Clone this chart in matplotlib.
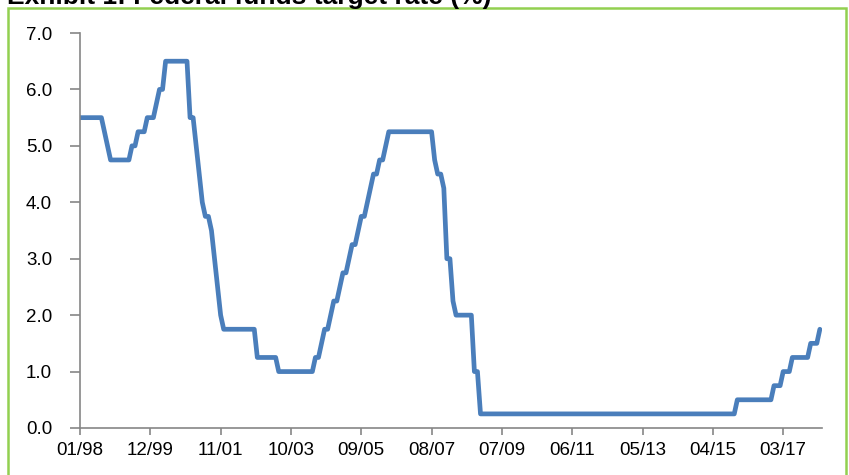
import matplotlib.pyplot as plt
from matplotlib.patches import Rectangle

plt.rcParams['font.family'] = ['Liberation Sans', 'DejaVu Sans']

# month-end fed funds target rate (%), Jan 1998 .. Mar 2018
rate_1998 = [5.5] * 8 + [5.25, 5.0, 4.75, 4.75]
rate_1999 = [4.75] * 5 + [5.0, 5.0, 5.25, 5.25, 5.25, 5.5, 5.5]
rate_2000 = [5.5, 5.75, 6.0, 6.0] + [6.5] * 8
rate_2001 = [5.5, 5.5, 5.0, 4.5, 4.0, 3.75, 3.75, 3.5, 3.0, 2.5, 2.0, 1.75]
rate_2002 = [1.75] * 10 + [1.25, 1.25]
rate_2003 = [1.25] * 5 + [1.0] * 7
rate_2004 = [1.0] * 5 + [1.25, 1.25, 1.5, 1.75, 1.75, 2.0, 2.25]
rate_2005 = [2.25, 2.5, 2.75, 2.75, 3.0, 3.25, 3.25, 3.5, 3.75, 3.75, 4.0, 4.25]
rate_2006 = [4.5, 4.5, 4.75, 4.75, 5.0] + [5.25] * 7
rate_2007 = [5.25] * 8 + [4.75, 4.5, 4.5, 4.25]
rate_2008 = [3.0, 3.0, 2.25, 2.0, 2.0, 2.0, 2.0, 2.0, 2.0, 1.0, 1.0, 0.25]
rate_2009_2015 = [0.25] * (6 * 12 + 11) + [0.5]
rate_2016 = [0.5] * 11 + [0.75]
rate_2017 = [0.75, 0.75, 1.0, 1.0, 1.0, 1.25, 1.25, 1.25, 1.25, 1.25, 1.25, 1.5]
rate_2018 = [1.5, 1.5, 1.75]

rate = (rate_1998 + rate_1999 + rate_2000 + rate_2001 + rate_2002 + rate_2003
        + rate_2004 + rate_2005 + rate_2006 + rate_2007 + rate_2008
        + rate_2009_2015 + rate_2016 + rate_2017 + rate_2018)

tick_labels = ['01/98', '12/99', '11/01', '10/03', '09/05', '08/07',
               '07/09', '06/11', '05/13', '04/15', '03/17']
tick_step = 23

fig = plt.figure(figsize=(8.49, 4.75), dpi=100)
ax = fig.add_axes([80 / 849, 47 / 475, 742 / 849, 395 / 475])

ax.plot(range(len(rate)), rate, color='#4a7ebb', linewidth=3.4,
        solid_capstyle='round', solid_joinstyle='round')

ax.set_xlim(0, 242.7)
ax.set_ylim(0, 7)
ax.set_yticks([i * 1.0 for i in range(8)])
ax.set_yticklabels(['%.1f' % (i * 1.0) for i in range(8)])
ax.set_xticks([i * tick_step for i in range(len(tick_labels))])
ax.set_xticklabels(tick_labels)

for s in ['top', 'right']:
    ax.spines[s].set_visible(False)
for s in ['left', 'bottom']:
    ax.spines[s].set_color('#868686')
    ax.spines[s].set_linewidth(1.2)
ax.tick_params(axis='both', colors='#868686', labelcolor='black',
               labelsize=13.5, width=1.2)
ax.tick_params(axis='y', length=7, pad=13)
ax.tick_params(axis='x', length=5, pad=5)

# green frame around the chart area
fig.patches.append(Rectangle((8 / 849, -0.05), 838 / 849, 1.05 - 8 / 475,
                             transform=fig.transFigure, fill=False,
                             edgecolor='#92d050', linewidth=1.8))

fig.text(7 / 849, 1 - 4 / 475, 'Exhibit 1: Federal funds target rate (%)',
         fontsize=19, fontweight='bold', va='baseline', ha='left')

fig.savefig('out.png', dpi=100)
